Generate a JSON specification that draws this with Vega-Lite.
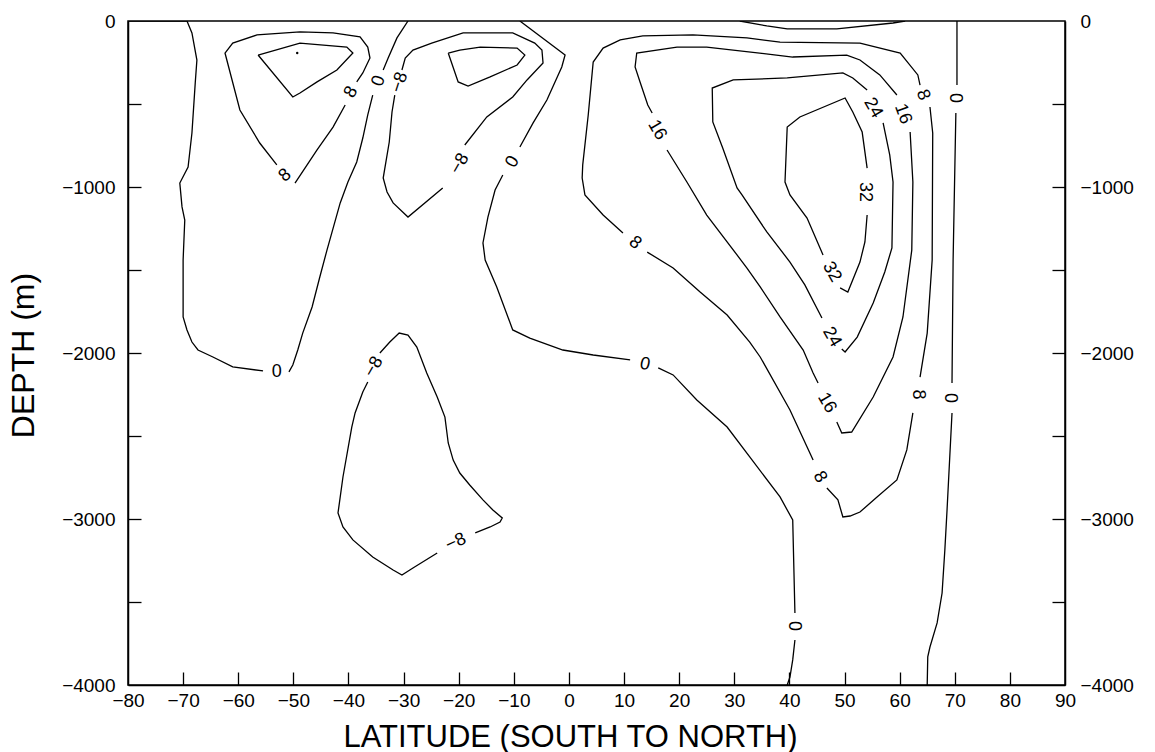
{
  "$schema": "https://vega.github.io/schema/vega-lite/v6.json",
  "width": 937,
  "height": 664,
  "autosize": {"type": "none"},
  "padding": {"left": 128, "top": 21, "right": 90, "bottom": 67},
  "background": "white",
  "config": {
    "view": {"stroke": "black", "strokeWidth": 1.5},
    "font": "Liberation Sans",
    "axis": {"grid": false}
  },
  "datasets": {
    "lines": [
      {"c":"T0","i":1,"lat":-80.0,"dep":0},{"c":"T0","i":2,"lat":-69.3,"dep":0},
      {"c":"S0a","i":1,"lat":-69.3,"dep":0},{"c":"S0a","i":2,"lat":-68.4,"dep":-72},{"c":"S0a","i":3,"lat":-67.5,"dep":-235},{"c":"S0a","i":4,"lat":-67.8,"dep":-373},{"c":"S0a","i":5,"lat":-68.4,"dep":-675},{"c":"S0a","i":6,"lat":-69.1,"dep":-880},{"c":"S0a","i":7,"lat":-70.6,"dep":-976},{"c":"S0a","i":8,"lat":-70.2,"dep":-1120},{"c":"S0a","i":9,"lat":-69.7,"dep":-1199},{"c":"S0a","i":10,"lat":-70.0,"dep":-1440},{"c":"S0a","i":11,"lat":-70.0,"dep":-1783},{"c":"S0a","i":12,"lat":-69.3,"dep":-1861},{"c":"S0a","i":13,"lat":-68.4,"dep":-1934},{"c":"S0a","i":14,"lat":-67.3,"dep":-1982},{"c":"S0a","i":15,"lat":-64.6,"dep":-2024},{"c":"S0a","i":16,"lat":-61.0,"dep":-2084},{"c":"S0a","i":17,"lat":-55.5,"dep":-2108},
      {"c":"S0b","i":1,"lat":-50.8,"dep":-2114},{"c":"S0b","i":2,"lat":-50.1,"dep":-2072},{"c":"S0b","i":3,"lat":-49.2,"dep":-1982},{"c":"S0b","i":4,"lat":-48.3,"dep":-1880},{"c":"S0b","i":5,"lat":-46.6,"dep":-1723},{"c":"S0b","i":6,"lat":-45.2,"dep":-1542},{"c":"S0b","i":7,"lat":-43.9,"dep":-1380},{"c":"S0b","i":8,"lat":-41.5,"dep":-1096},{"c":"S0b","i":9,"lat":-40.1,"dep":-970},{"c":"S0b","i":10,"lat":-38.5,"dep":-849},{"c":"S0b","i":11,"lat":-37.4,"dep":-705},{"c":"S0b","i":12,"lat":-36.5,"dep":-566},{"c":"S0b","i":13,"lat":-35.6,"dep":-446},
      {"c":"S0c","i":1,"lat":-33.7,"dep":-295},{"c":"S0c","i":2,"lat":-32.8,"dep":-223},{"c":"S0c","i":3,"lat":-31.2,"dep":-102},{"c":"S0c","i":4,"lat":-29.2,"dep":0},
      {"c":"P8Sa","i":1,"lat":-53.0,"dep":-867},{"c":"P8Sa","i":2,"lat":-56.1,"dep":-735},{"c":"P8Sa","i":3,"lat":-59.7,"dep":-536},{"c":"P8Sa","i":4,"lat":-62.4,"dep":-193},{"c":"P8Sa","i":5,"lat":-61.0,"dep":-133},{"c":"P8Sa","i":6,"lat":-56.6,"dep":-84},{"c":"P8Sa","i":7,"lat":-48.8,"dep":-66},{"c":"P8Sa","i":8,"lat":-42.8,"dep":-72},{"c":"P8Sa","i":9,"lat":-37.9,"dep":-96},{"c":"P8Sa","i":10,"lat":-36.5,"dep":-157},{"c":"P8Sa","i":11,"lat":-36.1,"dep":-223},{"c":"P8Sa","i":12,"lat":-37.4,"dep":-313},{"c":"P8Sa","i":13,"lat":-38.5,"dep":-367},
      {"c":"P8Sb","i":1,"lat":-40.6,"dep":-506},{"c":"P8Sb","i":2,"lat":-42.8,"dep":-639},{"c":"P8Sb","i":3,"lat":-45.7,"dep":-777},{"c":"P8Sb","i":4,"lat":-49.7,"dep":-976},
      {"c":"P16S","i":1,"lat":-56.4,"dep":-205},{"c":"P16S","i":2,"lat":-50.1,"dep":-458},{"c":"P16S","i":3,"lat":-48.8,"dep":-434},{"c":"P16S","i":4,"lat":-45.7,"dep":-367},{"c":"P16S","i":5,"lat":-42.1,"dep":-295},{"c":"P16S","i":6,"lat":-39.2,"dep":-193},{"c":"P16S","i":7,"lat":-40.3,"dep":-157},{"c":"P16S","i":8,"lat":-48.8,"dep":-133},{"c":"P16S","i":9,"lat":-56.4,"dep":-205},
      {"c":"N8Ma","i":1,"lat":-31.6,"dep":-446},{"c":"N8Ma","i":2,"lat":-32.1,"dep":-548},{"c":"N8Ma","i":3,"lat":-32.6,"dep":-729},{"c":"N8Ma","i":4,"lat":-33.7,"dep":-946},{"c":"N8Ma","i":5,"lat":-33.0,"dep":-1030},{"c":"N8Ma","i":6,"lat":-31.9,"dep":-1096},{"c":"N8Ma","i":7,"lat":-29.2,"dep":-1181},{"c":"N8Ma","i":8,"lat":-22.9,"dep":-1006},
      {"c":"N8Mb","i":1,"lat":-18.9,"dep":-747},{"c":"N8Mb","i":2,"lat":-14.9,"dep":-578},{"c":"N8Mb","i":3,"lat":-10.2,"dep":-458},{"c":"N8Mb","i":4,"lat":-7.6,"dep":-355},{"c":"N8Mb","i":5,"lat":-4.7,"dep":-253},{"c":"N8Mb","i":6,"lat":-4.9,"dep":-175},{"c":"N8Mb","i":7,"lat":-6.2,"dep":-133},{"c":"N8Mb","i":8,"lat":-10.2,"dep":-72},{"c":"N8Mb","i":9,"lat":-19.2,"dep":-72},{"c":"N8Mb","i":10,"lat":-24.9,"dep":-133},{"c":"N8Mb","i":11,"lat":-28.3,"dep":-175},{"c":"N8Mb","i":12,"lat":-29.7,"dep":-223},{"c":"N8Mb","i":13,"lat":-30.3,"dep":-295},
      {"c":"N16M","i":1,"lat":-21.9,"dep":-193},{"c":"N16M","i":2,"lat":-20.1,"dep":-367},{"c":"N16M","i":3,"lat":-18.3,"dep":-392},{"c":"N16M","i":4,"lat":-14.3,"dep":-337},{"c":"N16M","i":5,"lat":-9.4,"dep":-265},{"c":"N16M","i":6,"lat":-8.0,"dep":-205},{"c":"N16M","i":7,"lat":-9.4,"dep":-163},{"c":"N16M","i":8,"lat":-16.1,"dep":-157},{"c":"N16M","i":9,"lat":-19.8,"dep":-175},{"c":"N16M","i":10,"lat":-21.9,"dep":-193},
      {"c":"M0a","i":1,"lat":-8.9,"dep":0},{"c":"M0a","i":2,"lat":-0.7,"dep":-205},{"c":"M0a","i":3,"lat":-1.3,"dep":-277},{"c":"M0a","i":4,"lat":-4.0,"dep":-476},{"c":"M0a","i":5,"lat":-6.5,"dep":-614},{"c":"M0a","i":6,"lat":-8.9,"dep":-759},
      {"c":"M0b","i":1,"lat":-12.0,"dep":-928},{"c":"M0b","i":2,"lat":-13.4,"dep":-1018},{"c":"M0b","i":3,"lat":-14.7,"dep":-1181},{"c":"M0b","i":4,"lat":-15.6,"dep":-1337},{"c":"M0b","i":5,"lat":-15.2,"dep":-1440},{"c":"M0b","i":6,"lat":-13.1,"dep":-1602},{"c":"M0b","i":7,"lat":-10.2,"dep":-1861},{"c":"M0b","i":8,"lat":-7.1,"dep":-1910},{"c":"M0b","i":9,"lat":-1.1,"dep":-1982},{"c":"M0b","i":10,"lat":4.4,"dep":-2012},{"c":"M0b","i":11,"lat":11.1,"dep":-2042},
      {"c":"M0c","i":1,"lat":16.2,"dep":-2090},{"c":"M0c","i":2,"lat":18.9,"dep":-2132},{"c":"M0c","i":3,"lat":23.2,"dep":-2283},{"c":"M0c","i":4,"lat":28.7,"dep":-2446},{"c":"M0c","i":5,"lat":32.8,"dep":-2626},{"c":"M0c","i":6,"lat":38.3,"dep":-2867},{"c":"M0c","i":7,"lat":40.6,"dep":-3006},{"c":"M0c","i":8,"lat":41.0,"dep":-3566},
      {"c":"M0d","i":1,"lat":41.0,"dep":-3729},{"c":"M0d","i":2,"lat":40.6,"dep":-3849},{"c":"M0d","i":3,"lat":40.1,"dep":-3952},{"c":"M0d","i":4,"lat":39.6,"dep":-4000},
      {"c":"A0","i":1,"lat":31.0,"dep":0},{"c":"A0","i":2,"lat":35.9,"dep":-30},{"c":"A0","i":3,"lat":39.6,"dep":-48},{"c":"A0","i":4,"lat":48.6,"dep":-48},{"c":"A0","i":5,"lat":58.8,"dep":-12},{"c":"A0","i":6,"lat":61.0,"dep":0},
      {"c":"P8Na","i":1,"lat":9.8,"dep":-1277},{"c":"P8Na","i":2,"lat":6.2,"dep":-1169},{"c":"P8Na","i":3,"lat":2.9,"dep":-1048},{"c":"P8Na","i":4,"lat":2.4,"dep":-946},{"c":"P8Na","i":5,"lat":2.5,"dep":-867},{"c":"P8Na","i":6,"lat":3.5,"dep":-566},{"c":"P8Na","i":7,"lat":4.4,"dep":-247},{"c":"P8Na","i":8,"lat":6.2,"dep":-163},{"c":"P8Na","i":9,"lat":9.3,"dep":-114},{"c":"P8Na","i":10,"lat":13.4,"dep":-90},{"c":"P8Na","i":11,"lat":22.5,"dep":-84},{"c":"P8Na","i":12,"lat":32.3,"dep":-102},{"c":"P8Na","i":13,"lat":38.3,"dep":-127},{"c":"P8Na","i":14,"lat":52.8,"dep":-133},{"c":"P8Na","i":15,"lat":60.1,"dep":-193},{"c":"P8Na","i":16,"lat":63.3,"dep":-325},{"c":"P8Na","i":17,"lat":63.7,"dep":-386},
      {"c":"P8Nb","i":1,"lat":65.5,"dep":-518},{"c":"P8Nb","i":2,"lat":66.0,"dep":-675},{"c":"P8Nb","i":3,"lat":65.9,"dep":-1440},{"c":"P8Nb","i":4,"lat":65.0,"dep":-1880},{"c":"P8Nb","i":5,"lat":63.7,"dep":-2145},
      {"c":"P8Nc","i":1,"lat":62.4,"dep":-2361},{"c":"P8Nc","i":2,"lat":61.3,"dep":-2584},{"c":"P8Nc","i":3,"lat":59.5,"dep":-2765},{"c":"P8Nc","i":4,"lat":55.9,"dep":-2867},{"c":"P8Nc","i":5,"lat":52.8,"dep":-2958},{"c":"P8Nc","i":6,"lat":51.0,"dep":-2982},{"c":"P8Nc","i":7,"lat":49.7,"dep":-2988},{"c":"P8Nc","i":8,"lat":48.8,"dep":-2885},{"c":"P8Nc","i":9,"lat":46.8,"dep":-2813},
      {"c":"P8Nd","i":1,"lat":44.3,"dep":-2645},{"c":"P8Nd","i":2,"lat":40.1,"dep":-2343},{"c":"P8Nd","i":3,"lat":34.7,"dep":-2024},{"c":"P8Nd","i":4,"lat":32.8,"dep":-1934},{"c":"P8Nd","i":5,"lat":28.7,"dep":-1771},{"c":"P8Nd","i":6,"lat":23.8,"dep":-1633},{"c":"P8Nd","i":7,"lat":18.9,"dep":-1488},{"c":"P8Nd","i":8,"lat":14.2,"dep":-1392},
      {"c":"P16Na","i":1,"lat":15.1,"dep":-554},{"c":"P16Na","i":2,"lat":14.3,"dep":-506},{"c":"P16Na","i":3,"lat":12.9,"dep":-367},{"c":"P16Na","i":4,"lat":12.0,"dep":-277},{"c":"P16Na","i":5,"lat":12.3,"dep":-193},{"c":"P16Na","i":6,"lat":19.6,"dep":-157},{"c":"P16Na","i":7,"lat":25.0,"dep":-157},{"c":"P16Na","i":8,"lat":40.6,"dep":-217},{"c":"P16Na","i":9,"lat":50.4,"dep":-205},{"c":"P16Na","i":10,"lat":52.8,"dep":-235},{"c":"P16Na","i":11,"lat":56.4,"dep":-325},{"c":"P16Na","i":12,"lat":59.5,"dep":-446},
      {"c":"P16Nb","i":1,"lat":61.9,"dep":-669},{"c":"P16Nb","i":2,"lat":62.4,"dep":-970},{"c":"P16Nb","i":3,"lat":62.2,"dep":-1380},{"c":"P16Nb","i":4,"lat":60.6,"dep":-1783},{"c":"P16Nb","i":5,"lat":58.8,"dep":-2024},{"c":"P16Nb","i":6,"lat":55.2,"dep":-2265},{"c":"P16Nb","i":7,"lat":51.3,"dep":-2476},{"c":"P16Nb","i":8,"lat":49.5,"dep":-2482},{"c":"P16Nb","i":9,"lat":48.6,"dep":-2416},
      {"c":"P16Nc","i":1,"lat":45.2,"dep":-2181},{"c":"P16Nc","i":2,"lat":44.3,"dep":-2120},{"c":"P16Nc","i":3,"lat":42.5,"dep":-1982},{"c":"P16Nc","i":4,"lat":38.3,"dep":-1783},{"c":"P16Nc","i":5,"lat":34.7,"dep":-1602},{"c":"P16Nc","i":6,"lat":32.3,"dep":-1488},{"c":"P16Nc","i":7,"lat":25.0,"dep":-1169},{"c":"P16Nc","i":8,"lat":21.4,"dep":-970},{"c":"P16Nc","i":9,"lat":17.8,"dep":-777},
      {"c":"P24Na","i":1,"lat":57.0,"dep":-614},{"c":"P24Na","i":2,"lat":58.2,"dep":-807},{"c":"P24Na","i":3,"lat":58.8,"dep":-970},{"c":"P24Na","i":4,"lat":58.6,"dep":-1367},{"c":"P24Na","i":5,"lat":57.3,"dep":-1512},{"c":"P24Na","i":6,"lat":55.2,"dep":-1699},{"c":"P24Na","i":7,"lat":52.3,"dep":-1904},{"c":"P24Na","i":8,"lat":50.1,"dep":-1994},{"c":"P24Na","i":9,"lat":49.5,"dep":-1976},
      {"c":"P24Nb","i":1,"lat":45.9,"dep":-1789},{"c":"P24Nb","i":2,"lat":42.8,"dep":-1590},{"c":"P24Nb","i":3,"lat":40.1,"dep":-1452},{"c":"P24Nb","i":4,"lat":35.9,"dep":-1271},{"c":"P24Nb","i":5,"lat":31.4,"dep":-1048},{"c":"P24Nb","i":6,"lat":30.5,"dep":-1006},{"c":"P24Nb","i":7,"lat":27.9,"dep":-765},{"c":"P24Nb","i":8,"lat":26.1,"dep":-608},{"c":"P24Nb","i":9,"lat":26.0,"dep":-404},{"c":"P24Nb","i":10,"lat":29.8,"dep":-355},{"c":"P24Nb","i":11,"lat":39.6,"dep":-343},{"c":"P24Nb","i":12,"lat":49.7,"dep":-313},{"c":"P24Nb","i":13,"lat":51.5,"dep":-343},{"c":"P24Nb","i":14,"lat":54.1,"dep":-416},
      {"c":"P32a","i":1,"lat":54.1,"dep":-1169},{"c":"P32a","i":2,"lat":53.7,"dep":-1331},{"c":"P32a","i":3,"lat":52.8,"dep":-1452},{"c":"P32a","i":4,"lat":50.6,"dep":-1633},{"c":"P32a","i":5,"lat":49.2,"dep":-1608},
      {"c":"P32b","i":1,"lat":46.1,"dep":-1410},{"c":"P32b","i":2,"lat":43.2,"dep":-1187},{"c":"P32b","i":3,"lat":40.1,"dep":-1048},{"c":"P32b","i":4,"lat":39.2,"dep":-970},{"c":"P32b","i":5,"lat":39.6,"dep":-639},{"c":"P32b","i":6,"lat":41.9,"dep":-578},{"c":"P32b","i":7,"lat":50.1,"dep":-464},{"c":"P32b","i":8,"lat":51.5,"dep":-548},{"c":"P32b","i":9,"lat":53.2,"dep":-669},{"c":"P32b","i":10,"lat":54.1,"dep":-886},
      {"c":"N0a","i":1,"lat":70.4,"dep":0},{"c":"N0a","i":2,"lat":70.4,"dep":-386},
      {"c":"N0b","i":1,"lat":70.2,"dep":-554},{"c":"N0b","i":2,"lat":69.7,"dep":-1440},{"c":"N0b","i":3,"lat":69.5,"dep":-2181},
      {"c":"N0c","i":1,"lat":69.5,"dep":-2361},{"c":"N0c","i":2,"lat":68.6,"dep":-2946},{"c":"N0c","i":3,"lat":68.2,"dep":-3187},{"c":"N0c","i":4,"lat":67.7,"dep":-3446},{"c":"N0c","i":5,"lat":66.8,"dep":-3626},{"c":"N0c","i":6,"lat":65.5,"dep":-3771},{"c":"N0c","i":7,"lat":65.1,"dep":-3831},{"c":"N0c","i":8,"lat":65.0,"dep":-4000},
      {"c":"N8Ba","i":1,"lat":-34.3,"dep":-2000},{"c":"N8Ba","i":2,"lat":-32.5,"dep":-1934},{"c":"N8Ba","i":3,"lat":-30.8,"dep":-1880},{"c":"N8Ba","i":4,"lat":-29.2,"dep":-1892},{"c":"N8Ba","i":5,"lat":-27.6,"dep":-1964},{"c":"N8Ba","i":6,"lat":-25.8,"dep":-2120},{"c":"N8Ba","i":7,"lat":-23.9,"dep":-2265},{"c":"N8Ba","i":8,"lat":-22.5,"dep":-2386},{"c":"N8Ba","i":9,"lat":-21.9,"dep":-2542},{"c":"N8Ba","i":10,"lat":-21.0,"dep":-2645},{"c":"N8Ba","i":11,"lat":-19.8,"dep":-2723},{"c":"N8Ba","i":12,"lat":-18.0,"dep":-2795},{"c":"N8Ba","i":13,"lat":-15.6,"dep":-2885},{"c":"N8Ba","i":14,"lat":-13.8,"dep":-2946},{"c":"N8Ba","i":15,"lat":-12.1,"dep":-2994},{"c":"N8Ba","i":16,"lat":-12.5,"dep":-3018},{"c":"N8Ba","i":17,"lat":-14.3,"dep":-3048},{"c":"N8Ba","i":18,"lat":-17.0,"dep":-3084},
      {"c":"N8Bb","i":1,"lat":-23.9,"dep":-3205},{"c":"N8Bb","i":2,"lat":-28.3,"dep":-3295},{"c":"N8Bb","i":3,"lat":-30.3,"dep":-3337},{"c":"N8Bb","i":4,"lat":-31.9,"dep":-3307},{"c":"N8Bb","i":5,"lat":-35.6,"dep":-3229},{"c":"N8Bb","i":6,"lat":-39.2,"dep":-3126},{"c":"N8Bb","i":7,"lat":-41.0,"dep":-3048},{"c":"N8Bb","i":8,"lat":-41.9,"dep":-2964},{"c":"N8Bb","i":9,"lat":-41.0,"dep":-2747},{"c":"N8Bb","i":10,"lat":-39.4,"dep":-2446},{"c":"N8Bb","i":11,"lat":-38.8,"dep":-2361},{"c":"N8Bb","i":12,"lat":-37.4,"dep":-2235},{"c":"N8Bb","i":13,"lat":-36.5,"dep":-2175}
    ],
    "labels": [
      {"id":"L1","t":"0","lat":-53.0,"dep":-2115},
      {"id":"L2","t":"0","lat":-34.5,"dep":-361},
      {"id":"L3","t":"8","lat":-39.5,"dep":-428},
      {"id":"L4","t":"8","lat":-51.5,"dep":-930},
      {"id":"L5","t":"−8","lat":-30.7,"dep":-370},
      {"id":"L6","t":"−8","lat":-19.8,"dep":-860},
      {"id":"L7","t":"0","lat":-10.2,"dep":-849},
      {"id":"L8","t":"0","lat":13.8,"dep":-2068},
      {"id":"L9","t":"0","lat":40.8,"dep":-3645},
      {"id":"L10","t":"8","lat":12.0,"dep":-1337},
      {"id":"L11","t":"8","lat":64.2,"dep":-446},
      {"id":"L12","t":"8","lat":63.3,"dep":-2250},
      {"id":"L13","t":"8","lat":45.5,"dep":-2747},
      {"id":"L14","t":"16","lat":16.0,"dep":-657},
      {"id":"L15","t":"16","lat":60.6,"dep":-560},
      {"id":"L16","t":"16","lat":46.8,"dep":-2301},
      {"id":"L17","t":"24","lat":55.2,"dep":-524},
      {"id":"L18","t":"24","lat":47.7,"dep":-1904},
      {"id":"L19","t":"32","lat":53.7,"dep":-1030},
      {"id":"L20","t":"32","lat":47.7,"dep":-1512},
      {"id":"L21","t":"0","lat":70.0,"dep":-464},
      {"id":"L22","t":"0","lat":69.1,"dep":-2271},
      {"id":"L23","t":"−8","lat":-35.4,"dep":-2084},
      {"id":"L24","t":"−8","lat":-20.5,"dep":-3140}
    ],
    "dots": [
      {"lat":-49.3,"dep":-193}
    ]
  },
  "resolve": {"axis": {"x": "independent", "y": "independent"}, "scale": {"x": "shared", "y": "shared"}},
  "layer": [
    {
      "data": {"name": "lines"},
      "mark": {"type": "line", "color": "black", "strokeWidth": 1.3, "clip": true},
      "encoding": {
        "x": {
          "field": "lat", "type": "quantitative",
          "scale": {"domain": [-80, 90], "nice": false, "zero": false},
          "axis": {
            "orient": "bottom",
            "values": [-80,-70,-60,-50,-40,-30,-20,-10,0,10,20,30,40,50,60,70,80,90],
            "format": "d", "grid": false, "ticks": false,
            "domainColor": "black", "domainWidth": 1.5,
            "labelFont": "Liberation Sans", "labelFontSize": 19, "labelColor": "black",
            "labelPadding": 6, "labelFlush": false, "labelOverlap": false, "labelBound": false,
            "title": "LATITUDE (SOUTH TO NORTH)",
            "titleFont": "Liberation Sans", "titleFontSize": 31, "titleFontWeight": "normal", "titleColor": "black",
            "titleX": 442, "titleY": 61, "titleAlign": "center", "titleBaseline": "alphabetic"
          }
        },
        "y": {
          "field": "dep", "type": "quantitative",
          "scale": {"domain": [-4000, 0], "nice": false, "zero": false},
          "axis": {
            "orient": "left",
            "values": [0,-1000,-2000,-3000,-4000],
            "format": "d", "grid": false, "ticks": false,
            "domainColor": "black", "domainWidth": 1.5,
            "labelFont": "Liberation Sans", "labelFontSize": 19, "labelColor": "black",
            "labelPadding": 13, "labelFlush": false, "labelOverlap": false, "labelBound": false,
            "title": "DEPTH (m)",
            "titleFont": "Liberation Sans", "titleFontSize": 32, "titleFontWeight": "normal", "titleColor": "black",
            "titleAngle": -90, "titleX": -95, "titleY": 334, "titleAlign": "center", "titleBaseline": "alphabetic"
          }
        },
        "detail": {"field": "c"},
        "order": {"field": "i", "type": "quantitative"}
      }
    },
    {
      "data": {"name": "dots"},
      "mark": {"type": "point", "filled": true, "color": "black", "size": 6, "opacity": 1},
      "encoding": {
        "x": {
          "field": "lat", "type": "quantitative",
          "axis": {
            "orient": "top", "offset": -664,
            "values": [-70,-60,-50,-40,-30,-20,-10,0,10,20,30,40,50,60,70,80],
            "grid": false, "domain": false, "labels": false, "title": null,
            "ticks": true, "tickSize": 13, "tickColor": "black", "tickWidth": 1.3
          }
        },
        "y": {
          "field": "dep", "type": "quantitative",
          "axis": {
            "orient": "right",
            "values": [0,-1000,-2000,-3000,-4000],
            "format": "d", "grid": false, "ticks": false,
            "domainColor": "black", "domainWidth": 1.5,
            "labelFont": "Liberation Sans", "labelFontSize": 19, "labelColor": "black",
            "labelPadding": 15, "labelFlush": false, "labelOverlap": false, "labelBound": false,
            "title": null
          }
        }
      }
    },
    {
      "data": {"name": "labels"},
      "transform": [{"filter": {"field": "id", "oneOf": ["L1"]}}],
      "mark": {"type": "text", "angle": 0, "fontSize": 18, "font": "Liberation Sans", "color": "black", "align": "center", "baseline": "middle"},
      "encoding": {
        "x": {"field": "lat", "type": "quantitative", "axis": null},
        "y": {
          "field": "dep", "type": "quantitative",
          "axis": {
            "orient": "right", "offset": -937,
            "values": [-500,-1000,-1500,-2000,-2500,-3000,-3500],
            "grid": false, "domain": false, "labels": false, "title": null,
            "ticks": true, "tickSize": 13, "tickColor": "black", "tickWidth": 1.3
          }
        },
        "text": {"field": "t"}
      }
    },
    {
      "data": {"name": "labels"},
      "transform": [{"filter": {"field": "id", "oneOf": ["L8"]}}],
      "mark": {"type": "text", "angle": 12, "fontSize": 18, "font": "Liberation Sans", "color": "black", "align": "center", "baseline": "middle"},
      "encoding": {
        "x": {"field": "lat", "type": "quantitative", "axis": null},
        "y": {
          "field": "dep", "type": "quantitative",
          "axis": {
            "orient": "left", "offset": -937,
            "values": [-500,-1000,-1500,-2000,-2500,-3000,-3500],
            "grid": false, "domain": false, "labels": false, "title": null,
            "ticks": true, "tickSize": 13, "tickColor": "black", "tickWidth": 1.3
          }
        },
        "text": {"field": "t"}
      }
    },
    {
      "data": {"name": "labels"},
      "transform": [{"filter": {"field": "id", "oneOf": ["L24"]}}],
      "mark": {"type": "text", "angle": -25, "fontSize": 18, "font": "Liberation Sans", "color": "black", "align": "center", "baseline": "middle"},
      "encoding": {
        "x": {"field": "lat", "type": "quantitative", "axis": null},
        "y": {"field": "dep", "type": "quantitative", "axis": null},
        "text": {"field": "t"}
      }
    },
    {
      "data": {"name": "labels"},
      "transform": [{"filter": {"field": "id", "oneOf": ["L4"]}}],
      "mark": {"type": "text", "angle": -40, "fontSize": 18, "font": "Liberation Sans", "color": "black", "align": "center", "baseline": "middle"},
      "encoding": {
        "x": {"field": "lat", "type": "quantitative", "axis": null},
        "y": {"field": "dep", "type": "quantitative", "axis": null},
        "text": {"field": "t"}
      }
    },
    {
      "data": {"name": "labels"},
      "transform": [{"filter": {"field": "id", "oneOf": ["L3", "L6", "L7", "L23"]}}],
      "mark": {"type": "text", "angle": -60, "fontSize": 18, "font": "Liberation Sans", "color": "black", "align": "center", "baseline": "middle"},
      "encoding": {
        "x": {"field": "lat", "type": "quantitative", "axis": null},
        "y": {"field": "dep", "type": "quantitative", "axis": null},
        "text": {"field": "t"}
      }
    },
    {
      "data": {"name": "labels"},
      "transform": [{"filter": {"field": "id", "oneOf": ["L2", "L5"]}}],
      "mark": {"type": "text", "angle": -72, "fontSize": 18, "font": "Liberation Sans", "color": "black", "align": "center", "baseline": "middle"},
      "encoding": {
        "x": {"field": "lat", "type": "quantitative", "axis": null},
        "y": {"field": "dep", "type": "quantitative", "axis": null},
        "text": {"field": "t"}
      }
    },
    {
      "data": {"name": "labels"},
      "transform": [{"filter": {"field": "id", "oneOf": ["L10"]}}],
      "mark": {"type": "text", "angle": 40, "fontSize": 18, "font": "Liberation Sans", "color": "black", "align": "center", "baseline": "middle"},
      "encoding": {
        "x": {"field": "lat", "type": "quantitative", "axis": null},
        "y": {"field": "dep", "type": "quantitative", "axis": null},
        "text": {"field": "t"}
      }
    },
    {
      "data": {"name": "labels"},
      "transform": [{"filter": {"field": "id", "oneOf": ["L13", "L14", "L16", "L17", "L18", "L20"]}}],
      "mark": {"type": "text", "angle": 60, "fontSize": 18, "font": "Liberation Sans", "color": "black", "align": "center", "baseline": "middle"},
      "encoding": {
        "x": {"field": "lat", "type": "quantitative", "axis": null},
        "y": {"field": "dep", "type": "quantitative", "axis": null},
        "text": {"field": "t"}
      }
    },
    {
      "data": {"name": "labels"},
      "transform": [{"filter": {"field": "id", "oneOf": ["L11", "L15"]}}],
      "mark": {"type": "text", "angle": 70, "fontSize": 18, "font": "Liberation Sans", "color": "black", "align": "center", "baseline": "middle"},
      "encoding": {
        "x": {"field": "lat", "type": "quantitative", "axis": null},
        "y": {"field": "dep", "type": "quantitative", "axis": null},
        "text": {"field": "t"}
      }
    },
    {
      "data": {"name": "labels"},
      "transform": [{"filter": {"field": "id", "oneOf": ["L9", "L12", "L19", "L21", "L22"]}}],
      "mark": {"type": "text", "angle": 90, "fontSize": 18, "font": "Liberation Sans", "color": "black", "align": "center", "baseline": "middle"},
      "encoding": {
        "x": {"field": "lat", "type": "quantitative", "axis": null},
        "y": {"field": "dep", "type": "quantitative", "axis": null},
        "text": {"field": "t"}
      }
    }
  ]
}
